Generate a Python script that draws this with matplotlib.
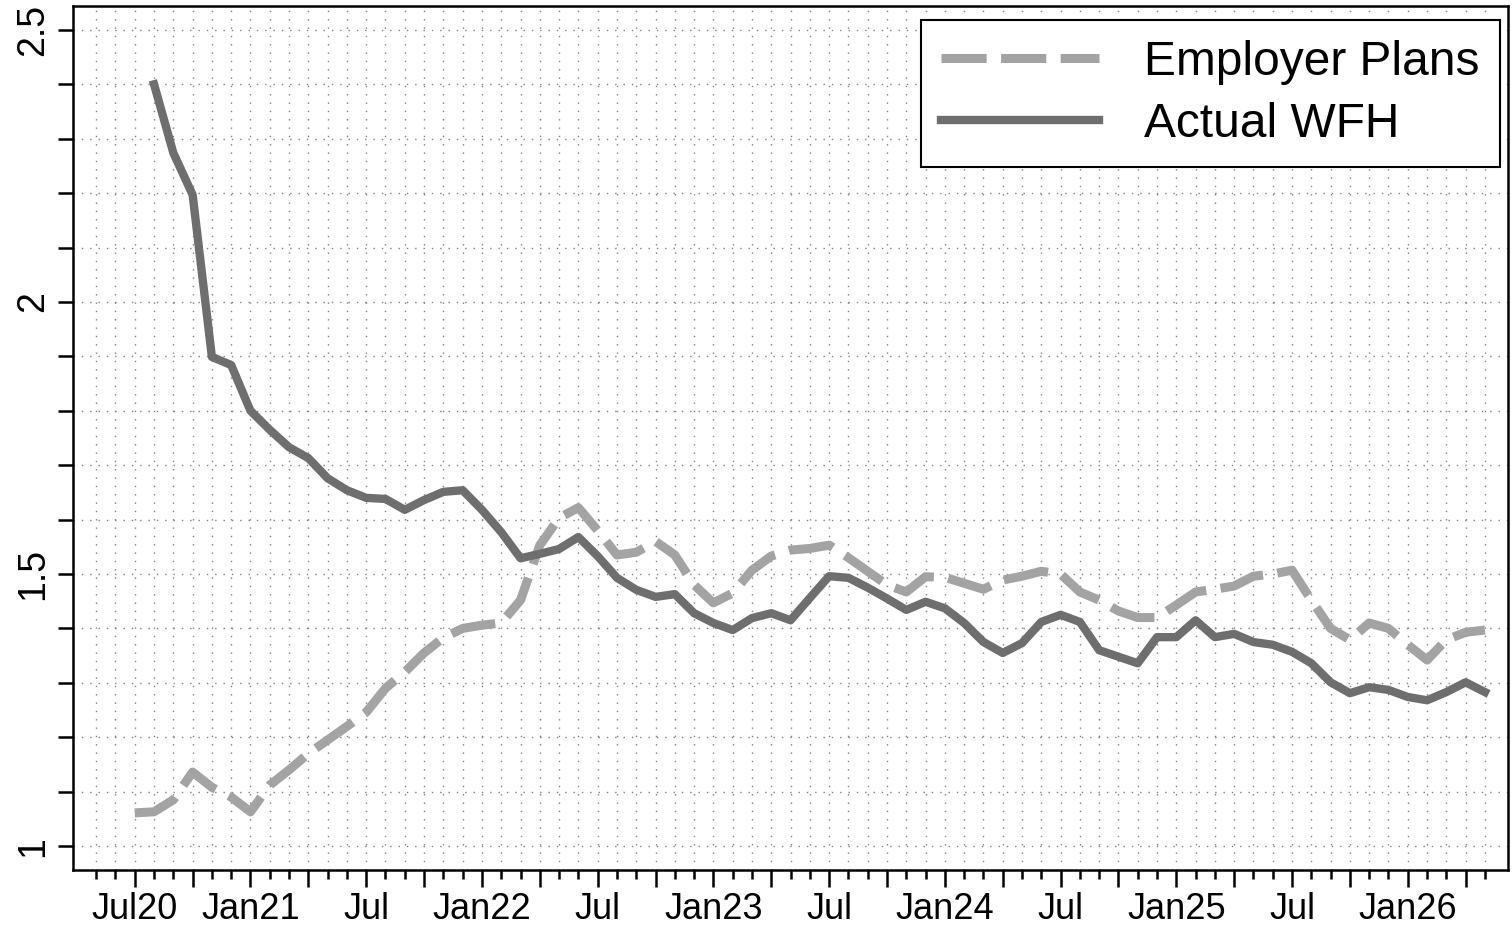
import matplotlib.pyplot as plt
import numpy as np
import pandas as pd

plt.rcParams['font.family'] = ['Liberation Sans', 'DejaVu Sans']

# monthly series, Jul 2020 .. May 2026
months = pd.period_range("2020-07", "2026-05", freq="M")

employer_plans = [
    1.061, 1.063, 1.085, 1.136, 1.108, 1.090,   # Jul20 - Dec20
    1.063, 1.112, 1.140, 1.170, 1.195, 1.220,   # 2021 H1
    1.246, 1.290, 1.320, 1.355, 1.383, 1.400,   # 2021 H2
    1.406, 1.410, 1.452, 1.553, 1.603, 1.622,   # 2022 H1
    1.580, 1.535, 1.540, 1.560, 1.535, 1.480,   # 2022 H2
    1.447, 1.465, 1.507, 1.533, 1.544, 1.547,   # 2023 H1
    1.553, 1.530, 1.505, 1.480, 1.467, 1.495,   # 2023 H2
    1.494, 1.483, 1.472, 1.489, 1.496, 1.505,   # 2024 H1
    1.500, 1.467, 1.452, 1.432, 1.420, 1.420,   # 2024 H2
    1.443, 1.467, 1.472, 1.478, 1.496, 1.500,   # 2025 H1
    1.507, 1.452, 1.400, 1.379, 1.410, 1.400,   # 2025 H2
    1.370, 1.342, 1.379, 1.393, 1.397,          # Jan26 - May26
]

actual_wfh = [
    np.nan, 2.400, 2.274, 2.197, 1.899, 1.884,
    1.800, 1.765, 1.733, 1.713, 1.676, 1.654,
    1.640, 1.638, 1.618, 1.636, 1.651, 1.654,
    1.618, 1.577, 1.529, 1.537, 1.546, 1.568,
    1.533, 1.493, 1.471, 1.458, 1.463, 1.428,
    1.410, 1.397, 1.419, 1.428, 1.415, 1.456,
    1.496, 1.493, 1.475, 1.455, 1.434, 1.449,
    1.437, 1.410, 1.375, 1.355, 1.373, 1.412,
    1.425, 1.412, 1.360, 1.348, 1.336, 1.384,
    1.384, 1.415, 1.384, 1.390, 1.375, 1.370,
    1.357, 1.336, 1.301, 1.281, 1.292, 1.287,
    1.274, 1.268, 1.283, 1.301, 1.283,
]

x = np.arange(len(months))

fig = plt.figure(figsize=(15.12, 9.32), dpi=100)
ax = fig.add_axes([0.0483, 0.0665, 0.9491, 0.9271])

ax.plot(x, employer_plans, color="#a3a3a3", lw=6.5, dashes=(5, 1.6),
        label="Employer Plans")
ax.plot(x, actual_wfh, color="#6e6e6e", lw=6, label="Actual WFH")

ax.set_xlim(-3.2, 71.2)
ax.set_ylim(0.956, 2.544)

# x ticks: monthly minor, quarterly major, label every 6 months
tick_pos = np.arange(-2, 71)
major = [m for m in tick_pos if m % 3 == 0]
minor = [m for m in tick_pos if m % 3 != 0]
labels = []
for m in major:
    if m % 6 != 0:
        labels.append("")
        continue
    p = months[0] + int(m)
    if m == 0 or p.month == 1:
        labels.append(p.strftime("%b%y"))
    else:
        labels.append(p.strftime("%b"))
ax.set_xticks(major)
ax.set_xticklabels(labels, fontsize=26)
ax.set_xticks(minor, minor=True)

yt = np.round(np.arange(1.0, 2.51, 0.1), 1)
ax.set_yticks(yt)
ax.set_yticklabels([("%g" % v) if abs(v * 2 - round(v * 2)) < 1e-6 else "" for v in yt],
                   fontsize=27, rotation=90, va="center")

ax.tick_params(axis="x", which="major", length=12, width=1.8, pad=4)
ax.tick_params(axis="x", which="minor", length=6.5, width=1.8)
ax.tick_params(axis="y", length=11, width=1.8, pad=5)

ax.grid(which="both", color="#808080", lw=1, linestyle=(0, (1, 5)))
ax.set_axisbelow(True)
for s in ax.spines.values():
    s.set_linewidth(1.8)

leg = ax.legend(loc="upper right", bbox_to_anchor=(1 - 8 / 1435, 1 - 14 / 864),
                borderaxespad=0, fontsize=34.5, handlelength=3.3,
                handletextpad=0.95, labelspacing=0.35, borderpad=0.42,
                fancybox=False, framealpha=1, edgecolor="black")
leg.get_frame().set_linewidth(1.5)

fig.savefig("out.png", dpi=100)
